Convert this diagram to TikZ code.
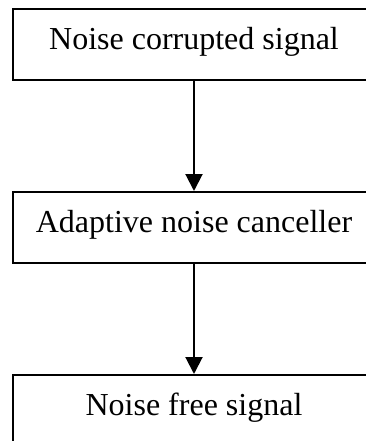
\documentclass[tikz,border=0pt]{standalone}
\usepackage{fontspec}
\setmainfont{Liberation Serif}
\usetikzlibrary{arrows.meta,positioning}

\begin{document}
\begin{tikzpicture}[x=0.5pt,y=-0.5pt,
    block/.style={draw,line width=1pt,minimum width=180.5pt,inner xsep=0pt,inner ysep=5pt,
        text height=15pt,text depth=10.5pt,font=\fontsize{16}{19}\selectfont},
    node distance=55pt]
\useasboundingbox (0,0) rectangle (366,441);
\clip (0,0) rectangle (366,441);
\node[block,anchor=north west] (noisy) at (12.5,8) {Noise corrupted signal};
\node[block,below=of noisy] (anc) {Adaptive noise canceller};
\node[block,below=of anc] (clean) {Noise free signal};
\path[-{Triangle[width=8.5pt,length=8.5pt]},line width=1pt] (noisy) edge (anc);
\path[-{Triangle[width=8.5pt,length=8.5pt]},line width=1pt] (anc) edge (clean);
\end{tikzpicture}
\end{document}
